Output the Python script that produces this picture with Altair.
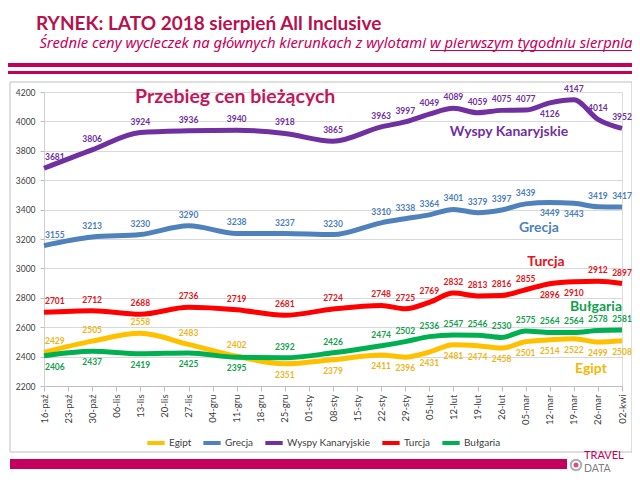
import altair as alt
import pandas as pd

# ---------------- data ----------------
all_weeks = ["16-paź", "23-paź", "30-paź", "06-lis", "13-lis", "20-lis", "27-lis",
             "04-gru", "11-gru", "18-gru", "25-gru", "01-sty", "08-sty", "15-sty",
             "22-sty", "29-sty", "05-lut", "12-lut", "19-lut", "26-lut", "05-mar",
             "12-mar", "19-mar", "26-mar", "02-kwi"]
weeks = ["16-paź", "30-paź", "13-lis", "27-lis", "11-gru", "25-gru", "08-sty",
         "22-sty", "29-sty", "05-lut", "12-lut", "19-lut", "26-lut", "05-mar",
         "12-mar", "19-mar", "26-mar", "02-kwi"]

series_names = ["Egipt", "Grecja", "Wyspy Kanaryjskie", "Turcja", "Bułgaria"]
egipt = [2429, 2505, 2558, 2483, 2402, 2351, 2379, 2411, 2396, 2431, 2481, 2474,
         2458, 2501, 2514, 2522, 2499, 2508]
grecja = [3155, 3213, 3230, 3290, 3238, 3237, 3230, 3310, 3338, 3364, 3401, 3379,
          3397, 3439, 3449, 3443, 3419, 3417]
kanary = [3681, 3806, 3924, 3936, 3940, 3918, 3865, 3963, 3997, 4049, 4089, 4059,
          4075, 4077, 4126, 4147, 4014, 3952]
turcja = [2701, 2712, 2688, 2736, 2719, 2681, 2724, 2748, 2725, 2769, 2832, 2813,
          2816, 2855, 2896, 2910, 2912, 2897]
bulgaria = [2406, 2437, 2419, 2425, 2395, 2392, 2426, 2474, 2502, 2536, 2547, 2546,
            2530, 2575, 2564, 2564, 2578, 2581]
y_ticks = [2200, 2400, 2600, 2800, 3000, 3200, 3400, 3600, 3800, 4000, 4200]

# label placement: A = above the line, B = below
label_side = {
    "Egipt": "AAAAABBBBBBBBBBBBB",
    "Grecja": "AAAAAAAAAAAAAABBAA",
    "Wyspy Kanaryjskie": "AAAAAAAAAAAAAABAAA",
    "Turcja": "AAAAAAAAAAAAAABBAA",
    "Bułgaria": "BBBBBAAAAAAAAAAAAA",
}

# ---------------- style ----------------
line_colors = ["#FFC000", "#4F81BD", "#7030A0", "#FF0000", "#00B050"]
label_colors = {"Egipt": "#EDB51A", "Grecja": "#4A7EBB", "Wyspy Kanaryjskie": "#7030A0",
                "Turcja": "#E3141B", "Bułgaria": "#12A04E"}
MAGENTA = "#C4005C"
FONT = "Lato"

rows = []
for s, vals in zip(series_names, [egipt, grecja, kanary, turcja, bulgaria]):
    for i, (w, v) in enumerate(zip(weeks, vals)):
        rows.append({"series": s, "week": w, "idx": i, "value": v,
                     "side": label_side[s][i], "lblcolor": label_colors[s],
                     "first": i == 0})
df = pd.DataFrame(rows)

W, H = 578, 294

x_enc = alt.X("week:O",
              scale=alt.Scale(type="point", domain=all_weeks, padding=0),
              axis=alt.Axis(title=None, labelAngle=270, labelFontSize=9.5,
                            labelColor="#404040", labelFont=FONT, tickSize=5,
                            tickColor="#BFBFBF", domainColor="#BFBFBF",
                            labelPadding=3, grid=False, labelOverlap=False))
y_enc = alt.Y("value:Q",
              scale=alt.Scale(domain=[2200, 4200], nice=False, zero=False),
              axis=alt.Axis(title=None, values=y_ticks, format="d", labelFontSize=8.5,
                            labelColor="#404040", labelFont=FONT, tickSize=4,
                            tickColor="#BFBFBF", domainColor="#D0D0D0",
                            gridColor="#D9D9D9", labelPadding=5,
                            labelOverlap=False))

base = alt.Chart(df)

lines = base.mark_line(strokeWidth=5, interpolate="monotone", strokeJoin="round").encode(
    x=x_enc, y=y_enc,
    color=alt.Color("series:N", scale=alt.Scale(domain=series_names, range=line_colors),
                    legend=alt.Legend(orient="none", legendX=101, legendY=340,
                                      direction="horizontal", title=None,
                                      symbolType="stroke", symbolStrokeWidth=4,
                                      symbolSize=300, labelFontSize=10,
                                      labelFont=FONT, labelColor="#404040",
                                      columnPadding=3, labelOffset=2)),
    order=alt.Order("idx:Q"),
    detail="series:N",
)

label_layers = []
for side, dy in [("A", -11), ("B", 11)]:
    for first in [True, False]:
        lay = base.transform_filter(
            (alt.datum.side == side) & (alt.datum.first == first)
        ).mark_text(fontSize=8.5, fontWeight="bold", font=FONT, dy=dy,
                    align="left" if first else "center",
                    dx=1 if first else 0).encode(
            x=x_enc, y=y_enc,
            text=alt.Text("value:Q", format="d"),
            color=alt.Color("lblcolor:N", scale=None),
        )
        label_layers.append(lay)

# ---------------- annotations / slide decoration ----------------
dummy = alt.Chart(pd.DataFrame({"a": [0]}))


def rect(x1, x2, y1, y2, **kw):
    return dummy.mark_rect(**kw).encode(x=alt.value(x1), x2=alt.value(x2),
                                        y=alt.value(y1), y2=alt.value(y2))


def txt(t, x, y, **kw):
    kw.setdefault("font", FONT)
    return dummy.mark_text(text=t, baseline="alphabetic", **kw).encode(
        x=alt.value(x), y=alt.value(y))


deco = [
    rect(-36, 588, -29, -25, color=MAGENTA),
    rect(-36, 588, -21, -18, color=MAGENTA),
    rect(-34, 588, -10, 360, fillOpacity=0, stroke="#BFBFBF", strokeWidth=1),
    rect(-34, 523, 367, 377, color=MAGENTA),
    txt("RYNEK: LATO 2018 sierpień All Inclusive", -8, -62, fontSize=19,
        fontWeight="bold", color="#B5124F", align="left"),
    txt("Średnie ceny wycieczek na głównych kierunkach z wylotami", 382, -44,
        fontSize=14.8, fontStyle="italic", color=MAGENTA, align="right",
        font="Noto Sans"),
    txt("w pierwszym tygodniu sierpnia", 386, -44,
        fontSize=14.8, fontStyle="italic", color=MAGENTA, align="left",
        font="Noto Sans"),
    rect(386, 588, -42, -41, color=MAGENTA),
    txt("Przebieg cen bieżących", 91, 11, fontSize=19.5, fontWeight="bold",
        color="#C2185B", align="left"),
    txt("Wyspy Kanaryjskie", 465, 44, fontSize=14, fontWeight="bold",
        color="#7030A0", align="center"),
    txt("Grecja", 495, 140, fontSize=14, fontWeight="bold", color="#4F81BD",
        align="center"),
    txt("Turcja", 502, 174, fontSize=14, fontWeight="bold", color="#E3141B",
        align="center"),
    txt("Bułgaria", 552, 219, fontSize=14, fontWeight="bold", color="#12A04E",
        align="center"),
    txt("Egipt", 547, 281, fontSize=14, fontWeight="bold", color="#F5B800",
        align="center"),
    dummy.mark_point(size=110, filled=False, strokeWidth=2, color="#8C8C8C").encode(
        x=alt.value(532), y=alt.value(373)),
    dummy.mark_point(size=25, filled=True, color=MAGENTA).encode(
        x=alt.value(532), y=alt.value(373)),
    txt("TRAVEL", 540, 367, fontSize=11, color=MAGENTA, align="left"),
    txt("DATA", 540, 379.5, fontSize=10.5, color="#7F7F7F", align="left"),
]

chart = alt.layer(*deco, lines, *label_layers).properties(
    width=W, height=H,
    autosize=alt.AutoSizeParams(type="none"),
    padding={"left": 36, "top": 84, "right": 10, "bottom": 86},
).configure_view(stroke=None).configure(background="white", font=FONT)

chart.save("out.html", embed_options={"renderer": "svg", "actions": False})
